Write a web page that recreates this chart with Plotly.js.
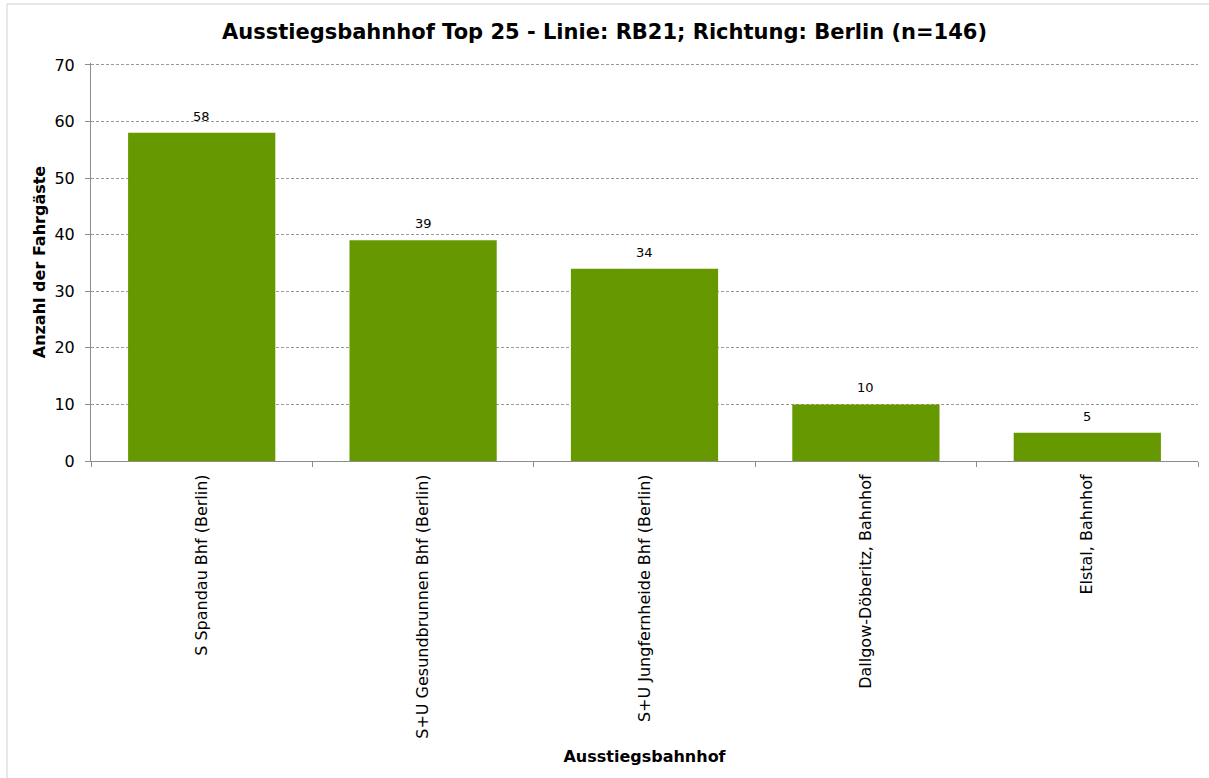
<!DOCTYPE html>
<html>
<head>
<meta charset="utf-8">
<script src="https://cdn.plot.ly/plotly-3.0.1.min.js"></script>
<style>html,body{margin:0;padding:0;background:#fff;}#chart{width:1209px;height:778px;}</style>
</head>
<body>
<div id="chart"></div>
<script>
const categories = [
  "S Spandau Bhf (Berlin)",
  "S+U Gesundbrunnen Bhf (Berlin)",
  "S+U Jungfernheide Bhf (Berlin)",
  "Dallgow-Döberitz, Bahnhof",
  "Elstal, Bahnhof"
];
const passengers = [58, 39, 34, 10, 5];
const yTicks = [0, 10, 20, 30, 40, 50, 60, 70];

const L = 91, R = 11, T = 63, B = 317, W = 1209, H = 778;
const pw = W - L - R, ph = H - T - B;
const font = "Tahoma, 'DejaVu Sans', Verdana, sans-serif";

const trace = {
  type: "bar",
  x: categories,
  y: passengers,
  marker: {color: "#669900", line: {width: 0}},
  width: 0.665,
  hoverinfo: "x+y"
};

const labelAnnotations = categories.map((c, i) => ({
  x: c, y: passengers[i], xref: "x", yref: "y",
  text: String(passengers[i]),
  showarrow: false, yanchor: "bottom", yshift: 7,
  font: {family: font, size: 13, color: "#000"}
}));

const layout = {
  width: W, height: H,
  margin: {l: L, r: R, t: T, b: B},
  paper_bgcolor: "#fff",
  plot_bgcolor: "#fff",
  showlegend: false,
  font: {family: font, color: "#000"},
  title: {
    text: "<b>Ausstiegsbahnhof Top 25 - Linie: RB21; Richtung: Berlin (n=146)</b>",
    font: {family: font, size: 21, color: "#000"},
    x: 0.5, xanchor: "center", y: 1 - 32 / H, yanchor: "middle"
  },
  xaxis: {
    type: "category",
    tickangle: -90,
    tickfont: {family: font, size: 16, color: "#000"},
    ticklabelstandoff: 6,
    showline: true, linecolor: "#8c8c8c", linewidth: 1,
    ticks: "outside", tickson: "boundaries", ticklen: 5, tickcolor: "#8c8c8c",
    showgrid: false,
    title: {text: "<b>Ausstiegsbahnhof</b>", font: {family: font, size: 16, color: "#000"}, standoff: 13},
    automargin: false
  },
  yaxis: {
    range: [0, 70.35],
    tickvals: yTicks,
    tickfont: {family: font, size: 16, color: "#000"},
    ticklabelstandoff: 7,
    showline: true, linecolor: "#8c8c8c", linewidth: 1,
    ticks: "outside", ticklen: 5, tickcolor: "#8c8c8c",
    showgrid: true, gridcolor: "#999999", griddash: "3px,2px", gridwidth: 1,
    zeroline: false,
    title: {text: "<b>Anzahl der Fahrgäste</b>", font: {family: font, size: 16, color: "#000"}, standoff: 4},
    automargin: false
  },
  annotations: labelAnnotations,
  shapes: [{
    type: "rect", xref: "paper", yref: "paper",
    x0: (7 - L) / pw, x1: (1215 - L) / pw,
    y0: -(H + 5 - T - ph) / ph, y1: (H - 4 - B) / ph,
    line: {color: "#d0d0d0", width: 1}, fillcolor: "rgba(0,0,0,0)", layer: "below"
  }]
};

Plotly.newPlot("chart", [trace], layout, {displayModeBar: false, staticPlot: true});
</script>
</body>
</html>
